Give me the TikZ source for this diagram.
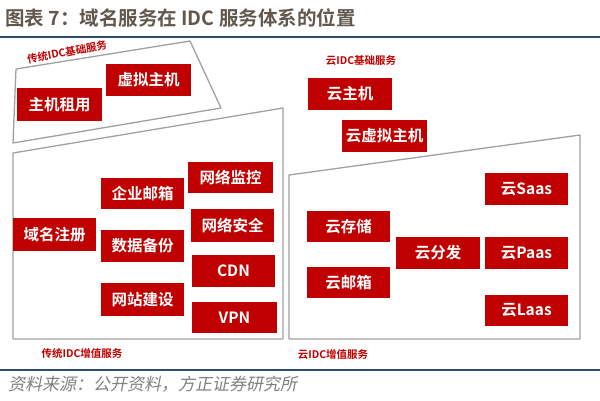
\documentclass[tikz,border=0pt]{standalone}
\usepackage{fontspec}
\setmainfont{Noto Sans CJK SC}[BoldFont={Noto Sans CJK SC Bold}]
\newfontfamily\cjkslant{Noto Sans CJK SC}[FakeSlant=0.2]
\definecolor{boxred}{HTML}{C00000}
\definecolor{titlegray}{HTML}{62574D}
\definecolor{rulenavy}{HTML}{2E4C6B}
\definecolor{framegray}{HTML}{A0A0A0}
\tikzset{
  rbox/.style={fill=boxred, text=white, font=\bfseries\fontsize{15.5}{17}\selectfont,
    minimum width=84pt, minimum height=32pt, inner sep=0pt},
  frame/.style={draw=framegray, line width=1.3pt, line join=round},
  grouplabel/.style={text=boxred, font=\bfseries\fontsize{10.5}{12}\selectfont, inner sep=0pt},
}
\begin{document}
\begin{tikzpicture}[x={(1pt,0)}, y={(0,-1pt)}]
\useasboundingbox (0,0) rectangle (600,400);
% title
\node[anchor=west, text=titlegray, font=\bfseries\fontsize{19.5}{21}\selectfont, inner sep=0pt] (title) at (5,18) {图表 7：域名服务在 IDC 服务体系的位置};
\draw[rulenavy, line width=1.5pt] (0,37) coordinate (tl) -- (600,37) coordinate (tr);
% frames
\draw[frame] (16,69) -- (190,41) -- (221,108) -- (13,143) -- cycle;
\draw[frame] (13,153) -- (283,108) -- (283,339) -- (13,339) -- cycle;
\draw[frame] (289,175) -- (580,135) -- (580,339) -- (289,339) -- cycle;
% group labels
\node[grouplabel, rotate=11] (l1) at (67,52) {传统IDC基础服务};
\node[grouplabel] (l2) at (361,61) {云IDC基础服务};
\node[grouplabel] (l3) at (82,353) {传统IDC增值服务};
\node[grouplabel] (l4) at (333,355) {云IDC增值服务};
% boxes
\node[rbox, minimum width=85pt, minimum height=33pt] (zjzy) at (59.5,104.5) {主机租用};
\node[rbox, minimum width=85pt] (xnzj) at (148.5,80) {虚拟主机};
\node[rbox] (yzj) at (350,93.5) {云主机};
\node[rbox, minimum width=85pt] (yxnzj) at (384.5,136) {云虚拟主机};
\node[rbox, minimum width=83pt, minimum height=33pt] (ymzc) at (54.5,234.5) {域名注册};
\node[rbox, minimum width=83pt, minimum height=31pt] (qyyx) at (142.5,193.5) {企业邮箱};
\node[rbox, minimum width=83pt] (sjbf) at (142.5,246) {数据备份};
\node[rbox, minimum width=83pt, minimum height=33pt] (wzjs) at (142.5,299.5) {网站建设};
\node[rbox, minimum width=85pt, minimum height=31pt] (wljk) at (230.5,177.5) {网络监控};
\node[rbox, minimum width=83pt, minimum height=33pt] (wlaq) at (232.5,225.5) {网络安全};
\node[rbox, minimum width=83pt] (cdn) at (233.5,271) {CDN};
\node[rbox, minimum width=85pt, minimum height=31pt] (vpn) at (234.5,317.5) {VPN};
\node[rbox, minimum width=83pt] (saas) at (526.5,189) {云Saas};
\node[rbox, minimum width=83pt, minimum height=31pt] (ycc) at (348.5,226.5) {云存储};
\node[rbox] (yff) at (438,253) {云分发};
\node[rbox, minimum width=83pt] (paas) at (526.5,253) {云Paas};
\node[rbox, minimum width=83pt, minimum height=31pt] (yyx) at (348.5,282.5) {云邮箱};
\node[rbox, minimum width=83pt, minimum height=31pt] (laas) at (526.5,310.5) {云Laas};
% bottom rule and source
\draw[rulenavy, line width=2pt] (0,370) coordinate (bl) -- (600,370) coordinate (br);
\node[anchor=west, text=gray, font=\cjkslant\fontsize{17}{19}\selectfont, inner sep=0pt] (src) at (8,384) {资料来源：公开资料，方正证券研究所};
\end{tikzpicture}
\end{document}
